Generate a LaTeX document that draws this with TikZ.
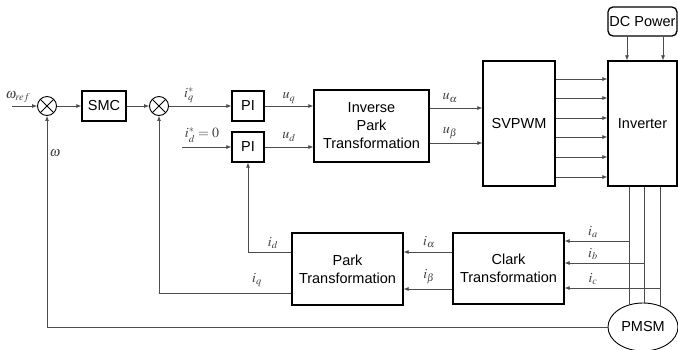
\documentclass[tikz,border=0pt]{standalone}
\usepackage{mathptmx}
\usepackage[no-math]{fontspec}
\setmainfont{Liberation Sans}
\usetikzlibrary{arrows.meta,shapes.geometric}
\begin{document}
\begin{tikzpicture}[x=1pt,y=-1pt,
 blk/.style={draw=black,line width=1.3pt,inner sep=0pt,font=\fontsize{14.5}{18}\selectfont,align=center},
 sumc/.style={draw=black,line width=0.9pt,circle,minimum size=19pt,inner sep=0pt,
   path picture={\draw[line width=0.8pt] (path picture bounding box.north west)--(path picture bounding box.south east) (path picture bounding box.south west)--(path picture bounding box.north east);}},
 sig/.style={draw=black!70,line width=0.7pt},
 arr/.style={sig,-{Latex[length=5pt,width=4pt]}},
 lbl/.style={font=\fontsize{14}{16}\selectfont,inner sep=0pt,text=black!75}
]
\useasboundingbox (0,0) rectangle (678,349);

% blocks
\node[sumc] (s1) at (47,106) {};
\node[blk,minimum width=44pt,minimum height=30pt] (smc) at (104,106) {SMC};
\node[sumc] (s2) at (159,106) {};
\node[blk,minimum width=32pt,minimum height=30pt] (pi1) at (248,106) {PI};
\node[blk,minimum width=32pt,minimum height=30pt] (pi2) at (248,147) {PI};
\node[blk,minimum width=115pt,minimum height=72pt] (ipark) at (371.5,126) {Inverse\\Park\\Transformation};
\node[blk,minimum width=72pt,minimum height=125pt] (svpwm) at (519,123.5) {SVPWM};
\node[blk,minimum width=69pt,minimum height=125pt] (inv) at (642.5,123.5) {Inverter};
\node[blk,rounded corners=5pt,minimum width=69pt,minimum height=29pt] (dc) at (642.5,21.5) {DC Power};
\node[blk,minimum width=111pt,minimum height=71pt] (clark) at (508.5,268.5) {Clark\\Transformation};
\node[blk,minimum width=111pt,minimum height=72pt] (park) at (347.5,269) {Park\\Transformation};
\node[draw=black,line width=0.9pt,ellipse,minimum width=70pt,minimum height=48pt,inner sep=0pt,font=\fontsize{14.5}{17}\selectfont] (pmsm) at (643,327) {PMSM};

% forward path
\coordinate (wref) at (12,106);
\draw[arr] (wref) -- (s1.west);
\draw[arr] (s1.east) -- (smc.west);
\draw[arr] (smc.east) -- (s2.west);
\draw[arr] (s2.east) -- (pi1.west);
\coordinate (idin) at (182,147);
\draw[arr] (idin) -- (pi2.west);
\draw[arr] (pi1.east) -- (pi1.east -| ipark.west);
\draw[arr] (pi2.east) -- (pi2.east -| ipark.west);
\coordinate (ua) at ([yshift=18pt]ipark.east);
\coordinate (ub) at ([yshift=-17pt]ipark.east);
\draw[arr] (ua) -- (ua -| svpwm.west);
\draw[arr] (ub) -- (ub -| svpwm.west);
\foreach \y in {79,98,118,137,157,177}
  \draw[arr] ([yshift={123.5-\y}]svpwm.east) -- ([yshift={123.5-\y}]inv.west);
\coordinate (dc1) at ([xshift=-15.5pt]dc.south);
\coordinate (dc2) at ([xshift=20.5pt]dc.south);
\draw[arr] (dc1) -- (dc1 |- inv.north);
\draw[arr] (dc2) -- (dc2 |- inv.north);

% motor phase lines
\coordinate (pa) at ([xshift=-13.5pt]inv.south);
\coordinate (pb) at ([xshift=1.5pt]inv.south);
\coordinate (pc) at ([xshift=17.5pt]inv.south);
\coordinate (ea) at (629,305);
\coordinate (eb) at (644,303);
\coordinate (ec) at (660,306);
\draw[sig] (pa) -- (pa |- ea);
\draw[sig] (pb) -- (pb |- eb);
\draw[sig] (pc) -- (pc |- ec);
\coordinate (ia) at (629,241);
\coordinate (ib) at (644,263);
\coordinate (ic) at (660,288);
\draw[arr] (ia) -- (ia -| clark.east);
\draw[arr] (ib) -- (ib -| clark.east);
\draw[arr] (ic) -- (ic -| clark.east);

% feedback
\coordinate (cal) at ([yshift=16.5pt]clark.west);
\coordinate (cbe) at ([yshift=-20.5pt]clark.west);
\draw[arr] (cal) -- (cal -| park.east);
\draw[arr] (cbe) -- (cbe -| park.east);
\coordinate (pd) at ([yshift=17pt]park.west);
\coordinate (pq) at ([yshift=-24pt]park.west);
\draw[arr] (pd) -| (pi2.south);
\draw[arr] (pq) -| (s2.south);
\draw[arr] (pmsm.west) -| (s1.south);

% labels
\node[lbl] at (18,97) {$\omega_{ref}$};
\node[lbl] at (55,153) {$\omega$};
\node[lbl] at (189,95) {$i_q^*$};
\node[lbl] at (202,135) {$i_d^*=0$};
\node[lbl] at (289,98) {$u_q$};
\node[lbl] at (289,137) {$u_d$};
\node[lbl] at (450,98) {$u_\alpha$};
\node[lbl] at (450,133) {$u_\beta$};
\node[lbl] at (593,232) {$i_a$};
\node[lbl] at (593,254) {$i_b$};
\node[lbl] at (593,279) {$i_c$};
\node[lbl] at (429,242) {$i_\alpha$};
\node[lbl] at (429,277) {$i_\beta$};
\node[lbl] at (273,243) {$i_d$};
\node[lbl] at (257,280) {$i_q$};
\end{tikzpicture}
\end{document}
